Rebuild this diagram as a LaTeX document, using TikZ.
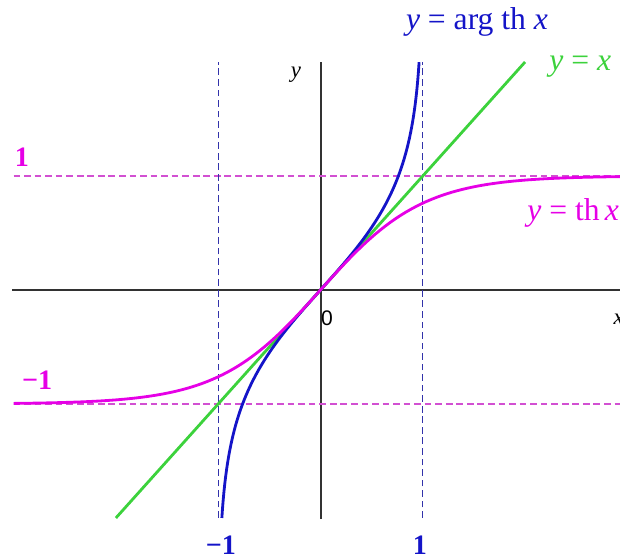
\documentclass[tikz,border=0pt]{standalone}
\usepackage{fontspec}
\setmainfont{Liberation Serif}
\newfontfamily\axisfont{Liberation Sans}
\definecolor{axisgray}{RGB}{50,50,50}
\definecolor{argblue}{RGB}{20,20,200}
\definecolor{asymblue}{RGB}{50,50,170}
\definecolor{thmag}{RGB}{230,0,230}
\definecolor{asymmag}{RGB}{210,80,210}
\definecolor{idgreen}{RGB}{60,210,60}
\begin{document}
\begin{tikzpicture}[x=1.023cm, y=1.14cm,
  every node/.style={font=\fontsize{9}{10}\selectfont, inner sep=0pt},
  axis/.style={draw=axisgray, line width=0.5pt},
  asym/.style={dashed, dash pattern=on 1.9pt off 1.1pt, line width=0.35pt},
  curve/.style={line width=0.8pt},
  digit/.style={font=\fontsize{8}{9}\selectfont\bfseries}]
  \useasboundingbox (-3.133,-2.36) rectangle (2.928,2.544);
  % axes
  \draw[axis] (-3.015,0) -- (2.93,0);
  \draw[axis] (0.005,-2.01) -- (0.005,2.0);
  \node[font=\fontsize{6}{7}\axisfont] (zero) at (0.064,-0.245) {0};
  \node[font=\fontsize{6.5}{7}\selectfont\itshape, anchor=west] (xlab) at (2.86,-0.26) {x};
  \node[font=\fontsize{6.5}{7}\selectfont\itshape] (ylab) at (-0.24,1.886) {y};
  % asymptotes
  \draw[asym, asymmag] (-3.0,1) -- (2.93,1);
  \draw[asym, asymmag] (-3.0,-1) -- (2.93,-1);
  \draw[asym, asymblue] (1,-2.0) -- (1,2.0);
  \draw[asym, asymblue] (-1,-2.0) -- (-1,2.0);
  % curves
  \draw[curve, idgreen] (-2,-2) -- (2,2);
  \draw[curve, argblue, domain=-2:2, samples=120] plot ({tanh(\x)}, \x);
  \draw[curve, thmag, domain=-3:2.93, samples=120] plot (\x, {tanh(\x)});
  % labels
  \node[thmag, digit] (one) at (-2.918,1.167) {1};
  \node[thmag, digit] (mone) at (-2.77,-0.79) {−1};
  \node[argblue, digit] (bone) at (0.973,-2.24) {1};
  \node[argblue, digit] (bmone) at (-0.973,-2.24) {−1};
  \node[argblue] (argth) at (1.53,2.35) {\textit{y} = arg th \textit{x}};
  \node[idgreen] (idlab) at (2.54,1.96) {\textit{y} = \textit{x}};
  \node[thmag] (thlab) at (2.47,0.675) {\textit{y} = th\,\textit{x}};
\end{tikzpicture}
\end{document}
